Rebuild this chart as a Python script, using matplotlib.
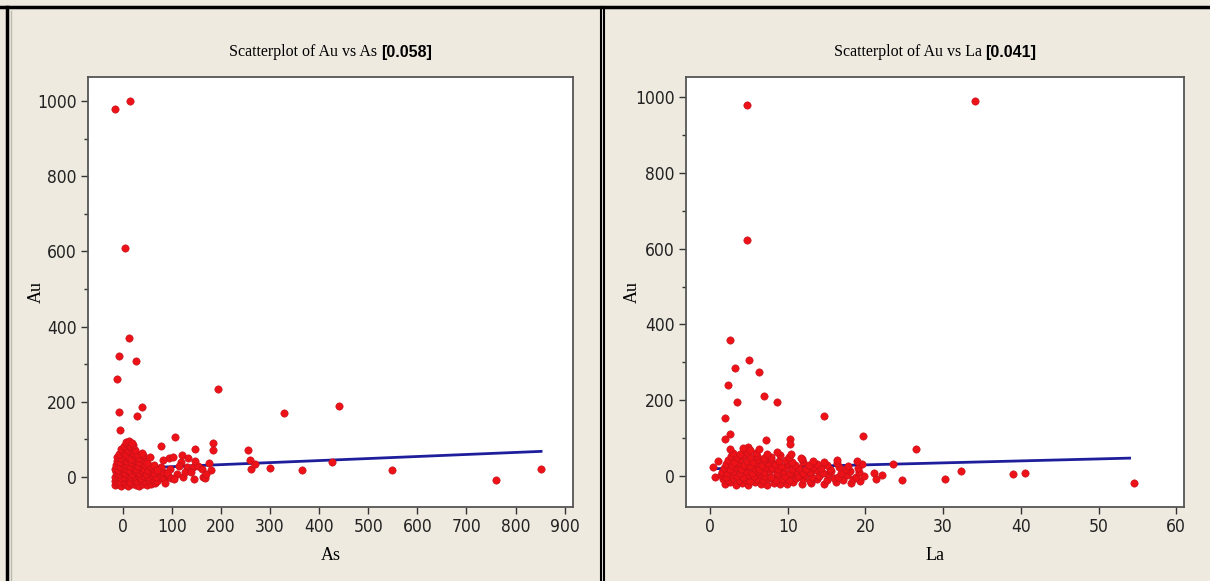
import matplotlib
matplotlib.use("Agg")
import matplotlib.pyplot as plt
from matplotlib import font_manager
from matplotlib.lines import Line2D

# ---- data ----
as_outliers = [(-16, 979), (14, 1000), (4, 610), (12, 370), (-8, 322), (26, 308), (-12, 260),
               (193, 233), (-8, 173), (-6, 125), (28, 162), (39, 186), (328, 171), (440, 190),
               (106, 106), (77, 82), (183, 90), (183, 72), (147, 74), (255, 71), (259, 45),
               (262, 21), (270, 34), (299, 24), (364, 18), (426, 40), (548, 18), (760, -8),
               (852, 21), (122, 0), (145, -5), (163, 0), (167, -3)]

as_cluster = [
    (-15, -22), (-9, -19), (-3, -24), (4, -20), (11, -23), (18, -18), (26, -21), (33, -24),
    (41, -19), (49, -22), (58, -20), (66, -16),
    (-17, -12), (-11, -8), (-5, -14), (2, -10), (8, -6), (15, -13), (22, -9), (29, -11),
    (37, -7), (45, -12), (53, -9), (61, -6), (70, -11), (78, -4),
    (-16, 0), (-10, 3), (-4, -2), (3, 1), (9, 5), (16, -1), (23, 2), (30, 6), (36, -3),
    (43, 3), (51, 0), (59, 4), (67, 1), (75, 7), (84, -2), (92, 3),
    (-14, 12), (-8, 9), (-1, 14), (5, 10), (12, 15), (19, 8), (26, 13), (33, 11), (40, 16),
    (48, 9), (56, 14), (63, 10), (72, 17), (81, 12), (89, 8),
    (-15, 22), (-9, 19), (-2, 25), (6, 21), (13, 18), (20, 24), (27, 20), (35, 26), (43, 22),
    (52, 19), (60, 25), (69, 21), (78, 27),
    (-13, 32), (-6, 29), (1, 35), (8, 31), (15, 28), (22, 34), (30, 30), (38, 36), (46, 32),
    (55, 28), (64, 33),
    (-12, 43), (-5, 40), (2, 46), (9, 42), (16, 39), (24, 45), (32, 41), (41, 47), (50, 38),
    (-11, 53), (-4, 50), (3, 56), (10, 52), (17, 49), (25, 55), (33, 51), (42, 58), (55, 52),
    (-7, 62), (0, 66), (6, 61), (13, 68), (20, 63), (29, 60), (38, 64),
    (-3, 73), (4, 76), (10, 71), (17, 78), (25, 72),
    (2, 83), (8, 87), (14, 82), (21, 85),
    (6, 92), (12, 95), (18, 90),
    (94, 50), (102, 53), (120, 58), (132, 50), (118, 40), (130, 27), (142, 27), (153, 29),
    (175, 37), (179, 18), (126, 13), (96, 21), (90, 10), (98, -3), (81, 45), (69, 18),
    (147, 42), (161, 21), (110, 8), (105, -6), (115, 30), (138, 12), (170, 8), (85, -15),
]

la_outliers = [(4.8, 979), (4.8, 623), (34.1, 989), (2.6, 359), (5.0, 307), (3.2, 285),
               (6.3, 274), (2.3, 240), (7.0, 211), (3.5, 195), (8.6, 195), (1.9, 153),
               (14.7, 158), (2.6, 111), (1.9, 98), (7.2, 95), (10.3, 98), (10.3, 84),
               (19.7, 106), (26.5, 71), (4.9, 77), (23.5, 31), (24.7, -11), (21.1, 8),
               (22.1, 3), (21.3, -8), (30.2, -8), (32.3, 13), (39.0, 5), (40.5, 8),
               (54.6, -18), (0.4, 23), (0.6, -2), (1.0, 39)]

la_cluster = [
    (1.9, -22), (2.6, -17), (3.4, -25), (4.1, -19), (4.9, -23), (5.8, -16), (6.5, -21),
    (7.3, -24), (8.2, -18), (9.0, -22), (9.9, -20), (10.7, -15), (11.8, -21), (13.0, -18),
    (14.6, -22), (16.2, -16), (18.1, -19),
    (1.6, -9), (2.3, -12), (3.0, -6), (3.7, -11), (4.5, -8), (5.2, -13), (6.0, -7), (6.8, -10),
    (7.6, -5), (8.5, -12), (9.3, -8), (10.2, -11), (11.1, -6), (12.0, -9), (12.9, -13),
    (13.8, -7), (15.0, -10), (16.0, -5), (17.1, -12), (18.4, -8), (19.3, -14),
    (1.4, 2), (2.0, -2), (2.8, 4), (3.5, 0), (4.2, -3), (5.0, 3), (5.7, -1), (6.4, 5), (7.1, 1),
    (7.9, -2), (8.7, 3), (9.6, 0), (10.4, 4), (11.3, -1), (12.2, 2), (13.1, -3), (14.0, 1),
    (15.2, 5), (16.5, -2), (17.6, 2), (18.8, -4), (19.8, 1),
    (1.5, 11), (2.2, 8), (3.0, 13), (3.8, 9), (4.6, 14), (5.4, 7), (6.2, 12), (6.9, 10),
    (7.7, 15), (8.6, 8), (9.4, 12), (10.3, 9), (11.0, 14), (11.9, 7), (12.8, 11), (13.6, 15),
    (14.5, 9), (15.6, 12), (16.8, 8), (18.0, 13), (19.2, 10),
    (1.8, 21), (2.5, 18), (3.3, 23), (4.0, 19), (4.8, 25), (5.6, 20), (6.3, 17), (7.2, 23),
    (8.0, 21), (8.8, 18), (9.7, 24), (10.6, 19), (11.5, 22), (12.4, 17), (13.3, 24),
    (14.3, 20), (15.4, 18), (16.6, 23), (17.5, 19), (19.0, 22),
    (2.0, 31), (2.8, 28), (3.6, 34), (4.4, 30), (5.1, 27), (5.9, 33), (6.7, 29), (7.5, 35),
    (8.3, 31), (9.1, 27), (10.0, 33), (10.9, 30), (11.9, 36), (12.7, 28), (13.7, 32),
    (15.0, 29), (16.4, 35), (17.8, 27), (19.5, 31),
    (2.3, 42), (3.1, 38), (3.9, 45), (4.7, 40), (5.5, 37), (6.2, 44), (7.0, 41), (7.9, 46),
    (8.9, 39), (9.8, 43), (10.6, 38), (11.8, 44), (13.2, 40), (14.6, 37), (16.4, 42),
    (18.9, 39),
    (2.7, 52), (3.5, 49), (4.3, 55), (5.2, 50), (6.1, 53), (6.9, 48), (7.9, 51), (9.0, 54),
    (10.2, 49), (11.7, 47),
    (3.0, 61), (3.9, 58), (4.8, 64), (5.9, 60), (7.3, 57), (8.6, 62), (10.4, 59),
    (2.6, 70), (4.2, 73), (5.2, 68), (6.3, 71),
]

# fitted lines (end points)
as_fit_x = [-16, 852]
as_fit_y = [21, 68]
la_fit_x = [0.4, 54.0]
la_fit_y = [19, 47]

titles = [("Scatterplot of Au vs As ", "[0.058]"), ("Scatterplot of Au vs La ", "[0.041]")]
xlabels = ["As", "La"]
as_xticks = [0, 100, 200, 300, 400, 500, 600, 700, 800, 900]
la_xticks = [0, 10, 20, 30, 40, 50, 60]
au_yticks = [0, 200, 400, 600, 800, 1000]
au_minor = [100, 300, 500, 700, 900]

bg = "#EEEAE0"
pt_face = "#EC1218"
pt_edge = "#C0101A"
fit_col = "#1E1E9C"
serif_font = ["Liberation Serif", "DejaVu Serif"]

# look for a narrow sans for the tick numbers, else plain Liberation Sans a bit smaller
have_cond = any(f.name == "DejaVu Sans" and f.stretch in ("condensed", "semi-condensed")
                for f in font_manager.fontManager.ttflist)
if have_cond:
    tick_fp = dict(family="DejaVu Sans", stretch="condensed", size=12.5)
else:
    tick_fp = dict(family="Liberation Sans", size=11)

fig = plt.figure(figsize=(12.1, 5.81), dpi=100, facecolor=bg)
W, H = 1210, 581

ax1 = fig.add_axes([88 / W, 1 - 507 / H, 485 / W, 430 / H])
ax2 = fig.add_axes([686 / W, 1 - 507 / H, 498 / W, 430 / H])

panels = [
    (ax1, as_outliers + as_cluster, as_fit_x, as_fit_y, as_xticks, (-71, 917), (-80, 1064), -0.090),
    (ax2, la_outliers + la_cluster, la_fit_x, la_fit_y, la_xticks, (-3.1, 61.0), (-82, 1053), -0.090),
]

for i, (ax, pts, fx, fy, xt, xl, yl, ylab_x) in enumerate(panels):
    xs = [p[0] for p in pts]
    ys = [p[1] for p in pts]
    ax.plot(fx, fy, color=fit_col, lw=2, zorder=2)
    ax.scatter(xs, ys, s=28, c=pt_face, edgecolors=pt_edge, linewidths=0.4, zorder=3)
    ax.set_xlim(*xl)
    ax.set_ylim(*yl)
    ax.set_xticks(xt)
    ax.set_yticks(au_yticks)
    ax.set_yticks(au_minor, minor=True)
    ax.tick_params(which="both", direction="out", color="#333333", width=1.0)
    ax.tick_params(which="major", length=5, pad=3)
    ax.tick_params(which="minor", length=3)
    for lab in ax.get_xticklabels() + ax.get_yticklabels():
        lab.set(**tick_fp)
        lab.set_color("#222222")
    for sp in ax.spines.values():
        sp.set_color("#555555")
        sp.set_linewidth(1.3)
    ax.set_facecolor("white")
    ax.set_xlabel(xlabels[i], family=serif_font, fontsize=13, labelpad=8)
    ax.set_ylabel("Au", family=serif_font, fontsize=13)
    ax.yaxis.set_label_coords(ylab_x, 0.5)

# titles: normal part followed by bold part, centred over each axes
fig.canvas.draw()
r = fig.canvas.get_renderer()
for ax, (t_norm, t_bold) in zip([ax1, ax2], titles):
    bb = ax.get_window_extent(r)
    cx = (bb.x0 + bb.x1) / 2
    ty = (H - 52) / H
    a = fig.text(0, ty, t_norm, family=serif_font, fontsize=11.5, va="center", ha="left")
    b = fig.text(0, ty, t_bold, family=["Liberation Sans", "DejaVu Sans"], fontsize=11.5,
                 fontweight="bold", va="center", ha="left")
    w1 = a.get_window_extent(r).width
    w2 = b.get_window_extent(r).width
    x0 = cx - (w1 + w2) / 2
    a.set_x(x0 / W)
    b.set_x((x0 + w1) / W)

# window-like borders
fig.add_artist(Line2D([0, 1], [1 - 7 / H, 1 - 7 / H], color="black", lw=2.5))
fig.add_artist(Line2D([7 / W, 7 / W], [0, 1 - 7 / H], color="black", lw=2.5))
fig.add_artist(Line2D([11 / W, 11 / W], [0, 1 - 11 / H], color="#BDBAB0", lw=1))
fig.add_artist(Line2D([600.5 / W, 600.5 / W], [0, 1 - 7 / H], color="black", lw=1.5))
fig.add_artist(Line2D([604 / W, 604 / W], [0, 1 - 7 / H], color="black", lw=1.5))

fig.savefig("out.png", dpi=100, facecolor=bg)
